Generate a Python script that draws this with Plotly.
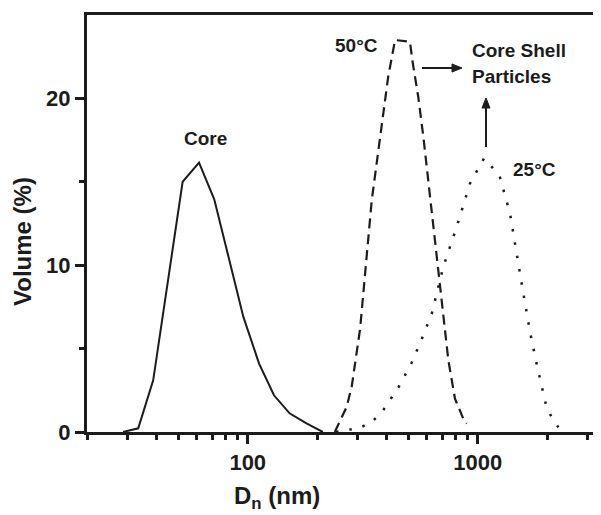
import math
import plotly.graph_objects as go

# ---- data ----
core_d = [28.7, 33.4, 38.8, 52.1, 61.4, 71.5, 95.7, 112, 130, 152, 180, 212]
core_v = [0, 0.22, 3.1, 15.0, 16.15, 13.95, 6.9, 4.1, 2.2, 1.12, 0.52, 0]

t50_d = [239, 269, 283, 308, 346, 382, 408, 437, 507, 522, 551, 580, 697, 745, 796, 865, 895]
t50_v = [0, 1.5, 2.7, 6.2, 13.9, 18.3, 21.3, 23.5, 23.4, 22.1, 20.1, 17.7, 8.0, 4.3, 2.0, 0.8, 0.5]

t25_d = [242, 308, 346, 386, 453, 516, 570, 631, 708, 810, 925, 1064, 1241, 1381, 1552, 1688, 1815, 1974, 2075, 2240]
t25_v = [0, 0.26, 0.6, 1.26, 2.7, 4.15, 5.55, 7.1, 9.9, 12.3, 14.9, 16.4, 15.4, 13.1, 8.9, 6.0, 3.9, 1.7, 1.0, 0.28]

x_major = [100, 1000]
x_major_text = ["100", "1000"]
x_minor = [20, 30, 40, 50, 60, 70, 80, 90, 200, 300, 400, 500, 600, 700, 800, 900, 2000, 3000]
y_major = [0, 10, 20]
y_minor = [5, 15]

INK = "#1c1c1c"
FONT = "Liberation Sans, Arial, sans-serif"

fig = go.Figure()
fig.add_trace(go.Scatter(x=core_d, y=core_v, mode="lines",
                         line=dict(color=INK, width=2)))
fig.add_trace(go.Scatter(x=t50_d, y=t50_v, mode="lines",
                         line=dict(color=INK, width=2.2, dash="10px,6px")))
fig.add_trace(go.Scatter(x=t25_d, y=t25_v, mode="lines",
                         line=dict(color=INK, width=2.5, dash="2.5px,11px")))

# page geometry (the page body adds an 8px offset)
OFF = 8
PL, PT, PB, PR = 87, 15, 432, 601      # plot-area edges in window pixels
W, H = 601 - OFF, 515 - OFF
L, T = PL - OFF, PT - OFF
B = H - (PB - OFF)
pw = PR - PL
ph = PB - PT
px_per_decade = 230.0
x0 = math.log10(20)
x1 = x0 + pw / px_per_decade


def px(xp):
    return (xp - PL) / pw


def py(yp):
    return (PB - yp) / ph


fig.update_layout(
    width=W, height=H,
    margin=dict(l=L, r=0, t=T, b=B),
    paper_bgcolor="white", plot_bgcolor="white",
    showlegend=False,
    font=dict(family=FONT, color=INK),
    xaxis=dict(type="log", range=[x0, x1], showgrid=False, zeroline=False,
               showline=True, linecolor=INK, linewidth=3, mirror=True,
               tickmode="array", tickvals=x_major, ticktext=x_major_text,
               ticks="outside", ticklen=9, tickwidth=2.5, tickcolor=INK,
               tickfont=dict(size=22, family=FONT, color=INK, weight="bold"),
               minor=dict(tickmode="array", tickvals=x_minor, ticks="outside",
                          ticklen=5, tickwidth=2.5, tickcolor=INK, showgrid=False),
               automargin=False, fixedrange=True),
    yaxis=dict(range=[0, 25], showgrid=False, zeroline=False,
               showline=True, linecolor=INK, linewidth=3,
               tickmode="array", tickvals=y_major,
               ticks="outside", ticklen=9, tickwidth=2.5, tickcolor=INK,
               tickfont=dict(size=22, family=FONT, color=INK, weight="bold"),
               minor=dict(tickmode="array", tickvals=y_minor, ticks="outside",
                          ticklen=5, tickwidth=2.5, tickcolor=INK, showgrid=False),
               automargin=False, fixedrange=True),
)

bold = dict(family=FONT, size=19, color=INK, weight="bold")
ann = []
ann.append(dict(text="Core", x=px(205), y=py(138), xref="paper", yref="paper",
                showarrow=False, font=bold, xanchor="center", yanchor="middle"))
ann.append(dict(text="50°C", x=px(356), y=py(46), xref="paper", yref="paper",
                showarrow=False, font=bold, xanchor="center", yanchor="middle"))
ann.append(dict(text="Core Shell", x=px(470), y=py(50), xref="paper", yref="paper",
                showarrow=False, font=bold, xanchor="left", yanchor="middle"))
ann.append(dict(text="Particles", x=px(470), y=py(77), xref="paper", yref="paper",
                showarrow=False, font=bold, xanchor="left", yanchor="middle"))
ann.append(dict(text="25°C", x=px(534), y=py(169), xref="paper", yref="paper",
                showarrow=False, font=bold, xanchor="center", yanchor="middle"))
ann.append(dict(text="D<sub>n</sub> (nm)", x=px(277), y=py(498), xref="paper", yref="paper",
                showarrow=False, font=dict(family=FONT, size=24, color=INK, weight="bold"),
                xanchor="center", yanchor="middle"))
ann.append(dict(text="Volume (%)", x=px(23), y=py(242), xref="paper", yref="paper",
                showarrow=False, textangle=-90,
                font=dict(family=FONT, size=24, color=INK, weight="bold"),
                xanchor="center", yanchor="middle"))
fig.update_layout(annotations=ann)

# arrows as shapes (shaft + filled head)
shapes = []


def arrow(x_tail, y_tail, x_head, y_head, head_len=10, head_half=4):
    dx, dy = x_head - x_tail, y_head - y_tail
    n = math.hypot(dx, dy)
    ux, uy = dx / n, dy / n
    bx, by = x_head - ux * head_len, y_head - uy * head_len
    shapes.append(dict(type="line", xref="paper", yref="paper",
                       x0=px(x_tail), y0=py(y_tail), x1=px(bx), y1=py(by),
                       line=dict(color=INK, width=2)))
    p1 = (bx - uy * head_half, by + ux * head_half)
    p2 = (bx + uy * head_half, by - ux * head_half)
    path = "M {} {} L {} {} L {} {} Z".format(px(x_head), py(y_head),
                                              px(p1[0]), py(p1[1]),
                                              px(p2[0]), py(p2[1]))
    shapes.append(dict(type="path", xref="paper", yref="paper", path=path,
                       fillcolor=INK, line=dict(color=INK, width=1)))


arrow(422, 68, 462, 68)
arrow(486, 147, 486, 98)
fig.update_layout(shapes=shapes)

fig.write_html("out.html")
